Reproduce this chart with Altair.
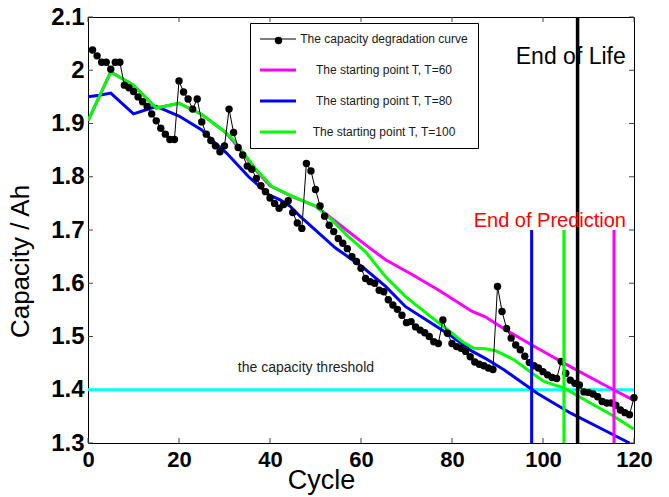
import altair as alt
import pandas as pd

# ---------------- data ----------------
cycles = list(range(1, 121))
capacity = [
    2.038, 2.027, 2.015, 2.015, 2.002, 2.015, 2.015, 1.972, 1.967, 1.960,
    1.950, 1.941, 1.932, 1.918, 1.905, 1.891, 1.880, 1.870, 1.870, 1.980,
    1.959, 1.946, 1.927, 1.946, 1.903, 1.880, 1.868, 1.858, 1.847, 1.858,
    1.927, 1.883, 1.855, 1.841, 1.820, 1.814, 1.797, 1.783, 1.772, 1.760,
    1.750, 1.741, 1.748, 1.755, 1.733, 1.713, 1.703, 1.825, 1.811, 1.776,
    1.745, 1.726, 1.709, 1.697, 1.684, 1.675, 1.665, 1.650, 1.641, 1.628,
    1.609, 1.603, 1.600, 1.587, 1.584, 1.569, 1.559, 1.551, 1.540, 1.526,
    1.528, 1.518, 1.512, 1.507, 1.500, 1.490, 1.487, 1.531, 1.506, 1.487,
    1.481, 1.478, 1.472, 1.462, 1.452, 1.448, 1.445, 1.441, 1.438, 1.594,
    1.547, 1.515, 1.497, 1.484, 1.475, 1.463, 1.451, 1.445, 1.441, 1.434,
    1.428, 1.423, 1.421, 1.453, 1.431, 1.418, 1.412, 1.409, 1.396, 1.395,
    1.392, 1.387, 1.378, 1.375, 1.375, 1.371, 1.362, 1.357, 1.353, 1.385,
]

t60_cycle = [0, 5, 10, 15, 20, 25, 30, 32, 37, 40, 45, 50, 53.5, 56.8, 61, 65.4,
             71.3, 77.1, 82.2, 84.2, 87.3, 91.5, 98.8, 106.1, 113.5, 120]
t60_cap = [1.905, 1.997, 1.972, 1.929, 1.938, 1.917, 1.885, 1.866, 1.811, 1.783,
           1.762, 1.745, 1.722, 1.700, 1.672, 1.644, 1.616, 1.587, 1.559, 1.548,
           1.537, 1.514, 1.478, 1.443, 1.409, 1.380]

t80_cycle = [0, 2.5, 5, 10, 15, 20, 25, 28, 30.4, 35.3, 39.8, 42.3, 44.5, 46.7,
             49.2, 54.4, 56.6, 60.4, 65.4, 69.8, 74.9, 80, 84.3, 87.3, 91.5, 98.8,
             106.1, 113.5, 119]
t80_cap = [1.950, 1.953, 1.957, 1.918, 1.932, 1.914, 1.888, 1.863, 1.845, 1.800,
           1.766, 1.756, 1.744, 1.725, 1.706, 1.666, 1.653, 1.630, 1.594, 1.556,
           1.528, 1.500, 1.473, 1.459, 1.437, 1.393, 1.356, 1.324, 1.300]

t100_cycle = [0, 5, 10, 15, 20, 25, 30, 32, 37, 40.5, 45, 50, 53.6, 56.8, 61, 65.4,
              69.8, 74.9, 80, 82.3, 84.8, 87.3, 89.7, 93.7, 98.1, 100.3, 104.7,
              109.8, 115, 120]
t100_cap = [1.905, 1.997, 1.972, 1.929, 1.938, 1.917, 1.885, 1.869, 1.813, 1.781,
            1.763, 1.745, 1.719, 1.691, 1.659, 1.612, 1.575, 1.540, 1.506, 1.490,
            1.478, 1.477, 1.473, 1.456, 1.428, 1.415, 1.403, 1.378, 1.353, 1.326]

series_names = [
    "The capacity degradation curve",
    "The starting point T, T=60",
    "The starting point T, T=80",
    "The starting point T, T=100",
]

threshold = [1.4]
end_of_life = [107.6]
end_of_prediction = [115.6, 97.5, 104.6]   # T=60, T=80, T=100
prediction_cap_range = [1.3, 1.7]
life_cap_range = [1.3, 2.1]

x_ticks = [0, 20, 40, 60, 80, 100, 120]
y_ticks = [1.3, 1.4, 1.5, 1.6, 1.7, 1.8, 1.9, 2.0, 2.1]

annotations = ["End of Life", "End of Prediction", "the capacity threshold"]
annotation_cycle = [106.1, 101.5, 47.9]
annotation_cap = [2.025, 1.717, 1.441]

# ---------------- styles ----------------
series_colors = ["#000000", "#ff00ff", "#0000ff", "#00ff00"]
series_widths = [1, 3, 3, 3]
FONT = "Liberation Sans"
W, H = 546, 426

# ---------------- tables ----------------
deg_df = pd.DataFrame({"cycle": cycles, "cap": capacity,
                       "series": series_names[0], "marker": series_names[0]})
pred_df = pd.concat([
    pd.DataFrame({"cycle": t60_cycle, "cap": t60_cap, "series": series_names[1]}),
    pd.DataFrame({"cycle": t80_cycle, "cap": t80_cap, "series": series_names[2]}),
    pd.DataFrame({"cycle": t100_cycle, "cap": t100_cap, "series": series_names[3]}),
])
line_df = pd.concat([deg_df[["cycle", "cap", "series"]], pred_df])

eop_df = pd.DataFrame({"cycle": end_of_prediction,
                       "cap": prediction_cap_range[0], "cap2": prediction_cap_range[1],
                       "colour": series_colors[1:]})
eol_df = pd.DataFrame({"cycle": end_of_life, "cap": life_cap_range[0], "cap2": life_cap_range[1]})
thr_df = pd.DataFrame({"cap": threshold})
ann_df = pd.DataFrame({"label": annotations, "cycle": annotation_cycle, "cap": annotation_cap})
xt_df = pd.DataFrame({"cycle": x_ticks})
yt_df = pd.DataFrame({"cap": y_ticks})

# ---------------- encodings ----------------
x_axis = alt.Axis(values=x_ticks, title="Cycle", grid=False, domain=False, ticks=False,
                  tickSize=0, labelFont=FONT, labelFontSize=22, labelFontWeight="bold",
                  labelColor="black", labelPadding=6, labelFlush=False, labelOverlap=False,
                  titleFont=FONT, titleFontSize=27, titleFontWeight="normal",
                  titleColor="black", titleX=233, titleY=45, titleAlign="center",
                  titleBaseline="alphabetic")
y_axis = alt.Axis(values=y_ticks, format=".1~f", title="Capacity / Ah", grid=False,
                  domain=False, ticks=False, tickSize=0, labelFont=FONT, labelFontSize=24,
                  labelFontWeight="bold", labelColor="black", labelPadding=4,
                  labelFlush=False, labelOverlap=False, titleFont=FONT, titleFontSize=26,
                  titleFontWeight="normal", titleColor="black", titleX=-60, titleY=244,
                  titleAngle=270, titleAlign="center", titleBaseline="alphabetic")

X = alt.X("cycle:Q", scale=alt.Scale(domain=[0, 120], nice=False), axis=x_axis)
Y = alt.Y("cap:Q", scale=alt.Scale(domain=[1.3, 2.1], nice=False, zero=False), axis=y_axis)

legend = alt.Legend(
    orient="none", legendX=162, legendY=6, title=None,
    symbolType="M-3,0H3", symbolSize=144, symbolOffset=12,
    symbolStrokeWidth=alt.ExprRef(
        "datum.value === '%s' ? %d : %d" % (series_names[0], series_widths[0], series_widths[1])),
    labelAlign="center", labelOffset=100, labelFont=FONT,
    labelFontSize=12, labelColor="#1a1a1a", labelLimit=0,
    rowPadding=19, padding=10, strokeColor="black",
)
color_enc = alt.Color("series:N", scale=alt.Scale(domain=series_names, range=series_colors),
                      legend=legend)

# ---------------- layers ----------------
thr_layer = alt.Chart(thr_df).mark_rule(color="#00ffff", strokeWidth=3).encode(y=Y)


def curve(i):
    return (alt.Chart(line_df).mark_line(clip=True)
            .transform_filter(alt.datum.series == series_names[i])
            .encode(x=X, y=Y, color=color_enc, strokeWidth=alt.value(series_widths[i])))


deg_line = curve(0)
t60_line = curve(1)
t80_line = curve(2)
t100_line = curve(3)

points = alt.Chart(deg_df).mark_point(filled=True, size=55, opacity=1, color="black").encode(
    x=X, y=Y,
    shape=alt.Shape("marker:N", scale=alt.Scale(domain=[series_names[0]], range=["circle"]),
                    legend=alt.Legend(orient="none", legendX=186.5, legendY=19.5, title=None,
                                      labelExpr="''", labelFontSize=1, padding=0,
                                      symbolFillColor="black", symbolStrokeColor="black",
                                      symbolSize=55, symbolStrokeWidth=0)),
)

eop_layer = alt.Chart(eop_df).mark_rule(strokeWidth=3).encode(
    x=X, y=Y, y2="cap2:Q", color=alt.Color("colour:N", scale=None))
eol_layer = alt.Chart(eol_df).mark_rule(strokeWidth=3.5, color="black").encode(
    x=X, y=Y, y2="cap2:Q")

eol_text = alt.Chart(ann_df).transform_filter(alt.datum.label == annotations[0]).mark_text(
    font=FONT, fontSize=23, color="black", align="center", baseline="middle"
).encode(x=X, y=Y, text="label:N")
eop_text = alt.Chart(ann_df).transform_filter(alt.datum.label == annotations[1]).mark_text(
    font=FONT, fontSize=20, color="#ff0000", align="center", baseline="middle"
).encode(x=X, y=Y, text="label:N")
thr_text = alt.Chart(ann_df).transform_filter(alt.datum.label == annotations[2]).mark_text(
    font=FONT, fontSize=14, color="#222222", align="center", baseline="middle"
).encode(x=X, y=Y, text="label:N")

tick_style = dict(color="#444444", strokeWidth=1)
xt_bottom = alt.Chart(xt_df).mark_rule(**tick_style).encode(x=X, y=alt.value(H), y2=alt.value(H - 5))
xt_top = alt.Chart(xt_df).mark_rule(**tick_style).encode(x=X, y=alt.value(0), y2=alt.value(5))
yt_left = alt.Chart(yt_df).mark_rule(**tick_style).encode(y=Y, x=alt.value(0), x2=alt.value(5))
yt_right = alt.Chart(yt_df).mark_rule(**tick_style).encode(y=Y, x=alt.value(W), x2=alt.value(W - 5))

chart = alt.layer(
    xt_bottom, xt_top, yt_left, yt_right,
    thr_layer, t60_line, t80_line, t100_line, deg_line, points,
    eop_layer, eol_layer, eol_text, eop_text, thr_text,
).properties(
    width=W, height=H,
    autosize=alt.AutoSizeParams(type="none"),
    padding={"left": 88, "top": 17, "right": 35, "bottom": 54},
    background="white",
).configure_view(stroke="black", strokeWidth=1)

chart.save("out.html", embed_options={"renderer": "svg", "actions": False})
